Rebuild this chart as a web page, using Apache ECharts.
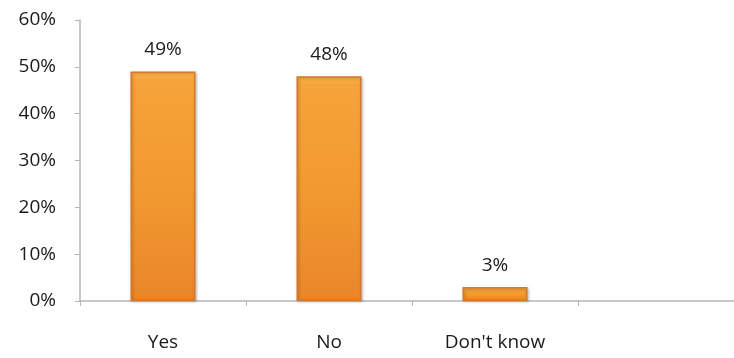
<!DOCTYPE html>
<html><head><meta charset="utf-8">
<script src="https://cdn.jsdelivr.net/npm/echarts@6/dist/echarts.min.js"></script>
<style>html,body{margin:0;padding:0;background:#fff;overflow:hidden}#c{width:734px;height:358px}</style>
</head><body><div id="c"></div>
<script>
const categories = ['Yes', 'No', "Don't know", ''];
const values = [49, 48, 3, null];
const yTicks = [0, 10, 20, 30, 40, 50, 60];

const chart = echarts.init(document.getElementById('c'), null, {renderer: 'canvas'});
const font = '"Open Sans", Lato, sans-serif';
chart.setOption({
  animation: false,
  grid: {left: 80, width: 664, top: 20, bottom: 57, containLabel: false, outerBoundsMode: 'none'},
  xAxis: {
    type: 'category', data: categories,
    axisLine: {lineStyle: {color: '#b5b5b5', width: 1.5}},
    axisTick: {show: true, length: 5, lineStyle: {color: '#b5b5b5'}},
    axisLabel: {color: '#1a1a1a', fontSize: 19, fontFamily: font, margin: 32}
  },
  yAxis: {
    type: 'value', min: 0, max: 60, interval: 10,
    axisLine: {show: true, lineStyle: {color: '#b5b5b5', width: 1.5}},
    axisTick: {show: true, length: 5, lineStyle: {color: '#b5b5b5'}},
    splitLine: {show: false},
    axisLabel: {color: '#1a1a1a', fontSize: 19, fontFamily: font, margin: 24,
      formatter: v => yTicks.includes(v) ? v + '%' : ''}
  },
  series: [{
    type: 'bar', data: values, barWidth: 65,
    itemStyle: {
      color: new echarts.graphic.LinearGradient(0, 0, 0, 1, [
        {offset: 0, color: '#f9b44c'},
        {offset: 0.04, color: '#f5a33a'},
        {offset: 0.5, color: '#f29a30'},
        {offset: 1, color: '#e9862a'}
      ]),
      borderColor: '#d9782a', borderWidth: 1.5,
      shadowColor: 'rgba(0,0,0,0.25)', shadowBlur: 3, shadowOffsetX: 1, shadowOffsetY: 1
    },
    label: {show: true, position: 'top', distance: 12, color: '#1a1a1a', fontSize: 19, fontFamily: font,
      formatter: p => p.value + '%'}
  }]
});
</script></body></html>
